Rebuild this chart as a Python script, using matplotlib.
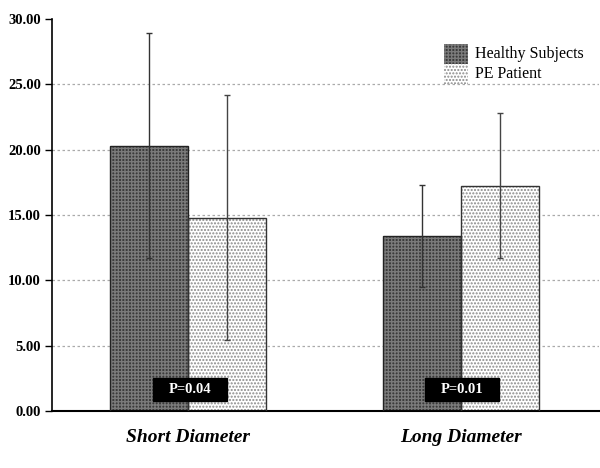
import matplotlib
matplotlib.use("Agg")
import matplotlib.pyplot as plt
import matplotlib.patches as mpatches
import numpy as np

categories = ["Short Diameter", "Long Diameter"]
healthy_mean = [20.3, 13.4]
healthy_sd = [8.6, 3.9]
pe_mean = [14.8, 17.25]
pe_sd = [9.35, 5.55]
p_labels = ["P=0.04", "P=0.01"]
series_names = ["Healthy Subjects", "PE Patient"]
yticks = [0, 5, 10, 15, 20, 25, 30]

plt.rcParams['font.family'] = ['Liberation Serif', 'DejaVu Serif']
plt.rcParams['hatch.linewidth'] = 1.0

W, H = 600, 468
fig = plt.figure(figsize=(W/100, H/100), dpi=100)
ax = fig.add_axes([52/W, (H-411)/H, 1 - 52/W - 0.002, (411-19)/H])

x = np.arange(len(categories))
w = 0.2857
dark_kw = dict(facecolor='#3a3a3a', edgecolor='#7a7a7a', hatch='+++++', linewidth=0)
light_kw = dict(facecolor='white', edgecolor='#8a8a8a', hatch='.....', linewidth=0)

ax.bar(x - w/2, healthy_mean, w, zorder=2, **dark_kw)
ax.bar(x - w/2, healthy_mean, w, fill=False, edgecolor='#222222', linewidth=1, zorder=3)
ax.bar(x + w/2, pe_mean, w, zorder=2, **light_kw)
ax.bar(x + w/2, pe_mean, w, fill=False, edgecolor='#333333', linewidth=1, zorder=3)

ax.errorbar(x - w/2, healthy_mean, yerr=healthy_sd, fmt='none', ecolor='#333333', elinewidth=1, capsize=2.5, zorder=4)
ax.errorbar(x + w/2, pe_mean, yerr=pe_sd, fmt='none', ecolor='#444444', elinewidth=1, capsize=2.5, zorder=4)

# P-value boxes
bw = 74/273
for xi, pl in zip(x, p_labels):
    cx = xi + 0.005
    ax.add_patch(mpatches.Rectangle((cx - bw/2, 0.75), bw, 1.78, facecolor='black', edgecolor='black', zorder=5))
    ax.text(cx, 1.62, pl, color='white', fontsize=10.5, fontweight='bold', ha='center', va='center', zorder=6)

ax.set_xlim(-0.5, 1.505)
ax.set_ylim(0, 30)
ax.set_yticks(yticks)
ax.set_yticklabels([f"{v:.2f}" for v in yticks], fontsize=10.5, fontweight='bold')
for v in yticks[1:-1]:
    ax.axhline(v, color='#aaaaaa', linestyle=(0, (2, 2)), linewidth=0.9, zorder=1)

ax.set_xticks(x)
ax.set_xticklabels(categories, fontsize=14, fontweight='bold', fontstyle='italic')
ax.tick_params(axis='x', length=0, pad=13)
ax.tick_params(axis='y', length=5, width=1, direction='out', pad=3)

for s in ['top', 'right']:
    ax.spines[s].set_visible(False)
ax.spines['left'].set_linewidth(1.2)
ax.spines['bottom'].set_linewidth(1.5)

# legend drawn manually in figure pixel coords
def fx(px):
    return px / W

def fy(py):
    return (H - py) / H

for i, (name, kw) in enumerate(zip(series_names, [dark_kw, light_kw])):
    top = 44 + 20 * i
    fig.add_artist(mpatches.Rectangle((fx(444), fy(top + 20)), fx(468) - fx(444), fy(top) - fy(top + 20),
                                      transform=fig.transFigure, **kw))
    fig.text(fx(475), fy(top + 10.5), name, fontsize=11.5, ha='left', va='center')

fig.savefig("out.png", dpi=100)
